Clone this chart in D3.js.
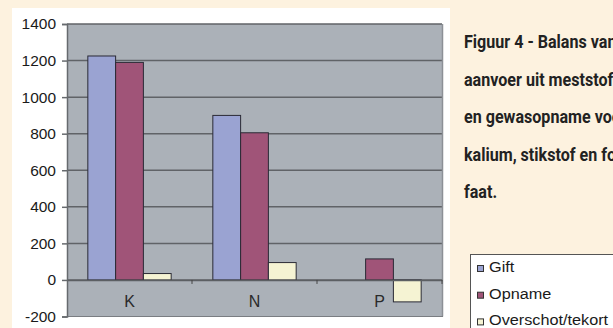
<!DOCTYPE html>
<html>
<head>
<meta charset="utf-8">
<script src="https://cdn.jsdelivr.net/npm/d3@7"></script>
<style>
  html, body { margin: 0; padding: 0; background: #fdf2df; overflow: hidden; }
  svg { display: block; }
</style>
</head>
<body>
<svg id="chart" width="613" height="328"></svg>
<script>
// Nutrient balance: supply from fertiliser (Gift), crop uptake (Opname) and the difference
const categories = ["K", "N", "P"];
const seriesNames = ["Gift", "Opname", "Overschot/tekort"];
const gift = [1225, 900, 0];
const opname = [1190, 805, 115];
const overschot = [35, 95, -120];
const yTicks = [-200, 0, 200, 400, 600, 800, 1000, 1200, 1400];
const captionLines = [
  "Figuur 4 - Balans van",
  "aanvoer uit meststoffen",
  "en gewasopname voor",
  "kalium, stikstof en fos-",
  "faat."
];

const seriesValues = [gift, opname, overschot];
const colors = ["#9aa3d2", "#a05478", "#f5f3d3"];
const labelFont = "Liberation Sans, Arial, sans-serif";

const svg = d3.select("#chart");

// white panel behind the chart
svg.append("rect").attr("x", 12).attr("y", 8).attr("width", 438).attr("height", 330).attr("fill", "#ffffff");

const plot = { left: 67, right: 442, top: 24, bottom: 316.5 };

const y = d3.scaleLinear().domain([-200, 1400]).range([plot.bottom, plot.top]);
const x = d3.scaleBand().domain(categories).range([plot.left, plot.right]).padding(0);
const gapRatio = 1.5; // gap between groups relative to one bar
const barW = x.bandwidth() / (seriesNames.length + gapRatio);
const groupOffset = (x.bandwidth() - barW * seriesNames.length) / 2;
const xs = d3.scaleBand().domain(seriesNames).range([0, barW * seriesNames.length]).padding(0);

// plot area
svg.append("rect")
  .attr("x", plot.left).attr("y", plot.top)
  .attr("width", plot.right - plot.left).attr("height", plot.bottom - plot.top)
  .attr("fill", "#abb1b8");

// gridlines
svg.append("g").selectAll("line")
  .data(yTicks.filter(t => t !== -200))
  .join("line")
  .attr("x1", plot.left).attr("x2", plot.right)
  .attr("y1", d => y(d)).attr("y2", d => y(d))
  .attr("stroke", "#606367").attr("stroke-width", 1.5);

// right shadow edge and bottom edge of plot
svg.append("line").attr("x1", plot.right + 0.5).attr("x2", plot.right + 0.5)
  .attr("y1", plot.top).attr("y2", plot.bottom)
  .attr("stroke", "#8c9096").attr("stroke-width", 1.5);
svg.append("line").attr("x1", plot.left).attr("x2", plot.right + 1)
  .attr("y1", plot.bottom).attr("y2", plot.bottom)
  .attr("stroke", "#7a7d82").attr("stroke-width", 1.2);

// bars
const groups = svg.append("g").selectAll("g")
  .data(categories)
  .join("g")
  .attr("transform", d => `translate(${x(d) + groupOffset},0)`);

groups.selectAll("rect")
  .data((c, i) => seriesNames.map((s, j) => ({ s, v: seriesValues[j][i], j })))
  .join("rect")
  .filter(d => d.v !== 0)
  .attr("x", d => xs(d.s))
  .attr("width", xs.bandwidth())
  .attr("y", d => y(Math.max(0, d.v)))
  .attr("height", d => Math.abs(y(d.v) - y(0)))
  .attr("fill", d => colors[d.j])
  .attr("stroke", "#2a2a35").attr("stroke-width", 1);

// y axis
const yAxis = d3.axisLeft(y).tickValues(yTicks).tickSize(5).tickPadding(6)
  .tickFormat(d => String(d));
const yg = svg.append("g").attr("transform", `translate(${plot.left},0)`).call(yAxis);
yg.select(".domain").attr("stroke", "#666a6e").attr("stroke-width", 1.5);
yg.selectAll(".tick line").attr("stroke", "#666a6e").attr("stroke-width", 1.5);
yg.selectAll(".tick text")
  .attr("font-family", labelFont)
  .attr("font-size", 15.5).attr("fill", "#1a1a1a");

// x axis along the zero line
const xAxis = d3.axisBottom(x).tickSize(0).tickPadding(16);
const xg = svg.append("g").attr("transform", `translate(0,${y(0)})`).call(xAxis);
xg.select(".domain").attr("stroke", "#5c5f63").attr("stroke-width", 1.5);
xg.selectAll(".tick text")
  .attr("font-family", labelFont)
  .attr("font-size", 16).attr("fill", "#2a2a2a");
xg.selectAll(".sep")
  .data(categories.slice(1).concat(["end"]))
  .join("line")
  .attr("class", "sep")
  .attr("x1", (d, i) => plot.left + x.bandwidth() * (i + 1))
  .attr("x2", (d, i) => plot.left + x.bandwidth() * (i + 1))
  .attr("y1", 0).attr("y2", 4)
  .attr("stroke", "#444").attr("stroke-width", 1);

// caption (narrow bold face)
const cap = svg.append("g");
cap.selectAll("text")
  .data(captionLines)
  .join("text")
  .attr("transform", (d, i) => `translate(464,${48.3 + i * 37.4}) scale(0.87,1)`)
  .attr("font-family", "Roboto, sans-serif")
  .attr("font-weight", "bold")
  .attr("font-size", 18.5)
  .attr("fill", "#222222")
  .text(d => d);

// legend
const lg = svg.append("g");
lg.append("rect").attr("x", 470.5).attr("y", 254.5).attr("width", 160).attr("height", 90)
  .attr("fill", "#ffffff").attr("stroke", "#555").attr("stroke-width", 1);
const items = lg.selectAll("g.item")
  .data(seriesNames)
  .join("g")
  .attr("class", "item")
  .attr("transform", (d, i) => `translate(0,${272 + i * 26.7})`);
items.append("rect")
  .attr("x", 477.5).attr("y", -6.5).attr("width", 6).attr("height", 6)
  .attr("fill", (d, i) => colors[i]).attr("stroke", "#333").attr("stroke-width", 1);
items.append("text")
  .attr("transform", "translate(489,0) scale(1.16,1)")
  .attr("font-family", labelFont)
  .attr("font-size", 14).attr("fill", "#1a1a1a")
  .text(d => d);
</script>
</body>
</html>
